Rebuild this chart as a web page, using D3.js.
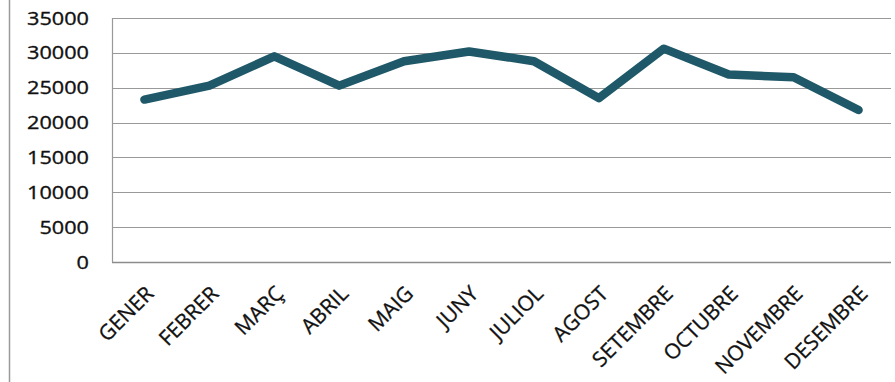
<!DOCTYPE html>
<html>
<head>
<meta charset="utf-8">
<script src="https://cdn.jsdelivr.net/npm/d3@7"></script>
<style>
  html, body { margin: 0; padding: 0; background: #fff; }
  svg { display: block; }
</style>
</head>
<body>
<svg id="chart" width="895" height="382"></svg>
<script>
// Monthly totals
const months = ["GENER", "FEBRER", "MARÇ", "ABRIL", "MAIG", "JUNY",
                "JULIOL", "AGOST", "SETEMBRE", "OCTUBRE", "NOVEMBRE", "DESEMBRE"];
const totals = [23300, 25300, 29500, 25300, 28800, 30200,
                28800, 23500, 30600, 26900, 26500, 21800];
const yTicks = [0, 5000, 10000, 15000, 20000, 25000, 30000, 35000];

const W = 895, H = 382;
const plot = { left: 112, right: 891, top: 18, bottom: 262 };

const svg = d3.select("#chart");

// outer frame edge on the left
svg.append("line")
  .attr("x1", 9.5).attr("x2", 9.5).attr("y1", 0).attr("y2", H)
  .attr("stroke", "#9a9a9a").attr("stroke-width", 1.5);

const x = d3.scalePoint()
  .domain(months)
  .range([plot.left, plot.right])
  .padding(0.5);

const y = d3.scaleLinear()
  .domain([0, 35000])
  .range([plot.bottom, plot.top]);

// horizontal gridlines
svg.append("g")
  .selectAll("line")
  .data(yTicks)
  .join("line")
  .attr("x1", plot.left).attr("x2", plot.right)
  .attr("y1", d => Math.round(y(d)) + 0.5).attr("y2", d => Math.round(y(d)) + 0.5)
  .attr("stroke", d => d === 0 ? "#8c8c8c" : "#999")
  .attr("stroke-width", d => d === 0 ? 1.6 : 1.2);

// left plot edge
svg.append("line")
  .attr("x1", plot.left + 0.5).attr("x2", plot.left + 0.5)
  .attr("y1", plot.top).attr("y2", plot.bottom)
  .attr("stroke", "#999").attr("stroke-width", 1.2);

// y axis labels
const yAxis = d3.axisLeft(y).tickValues(yTicks).tickSize(0).tickPadding(0)
  .tickFormat(d3.format("d"));
const gy = svg.append("g")
  .attr("transform", `translate(${plot.left - 23},0)`)
  .call(yAxis);
gy.select(".domain").remove();
gy.selectAll("text")
  .attr("font-family", "'Open Sans', sans-serif")
  .attr("font-size", 19)
  .attr("fill", "#111")
  .attr("stroke", "#111")
  .attr("stroke-width", 0.35)
  .attr("transform", "scale(1.14,1)")
  .attr("x", 0);

// x axis labels, rotated
const xAxis = d3.axisBottom(x).tickSize(0).tickPadding(0);
const gx = svg.append("g")
  .attr("transform", `translate(0,${plot.bottom})`)
  .call(xAxis);
gx.select(".domain").remove();
gx.selectAll("text")
  .attr("font-family", "'Open Sans', sans-serif")
  .attr("font-size", 21)
  .attr("fill", "#111")
  .attr("stroke", "#111")
  .attr("stroke-width", 0.3)
  .attr("text-anchor", "end")
  .attr("dy", 0)
  .attr("y", 0)
  .attr("transform", "translate(10,33) rotate(-45)");

// the series line
const line = d3.line()
  .x((d, i) => x(months[i]))
  .y(d => y(d));

svg.append("path")
  .datum(totals)
  .attr("d", line)
  .attr("fill", "none")
  .attr("stroke", "#1f5868")
  .attr("stroke-width", 8.5)
  .attr("stroke-linejoin", "round")
  .attr("stroke-linecap", "round");
</script>
</body>
</html>
